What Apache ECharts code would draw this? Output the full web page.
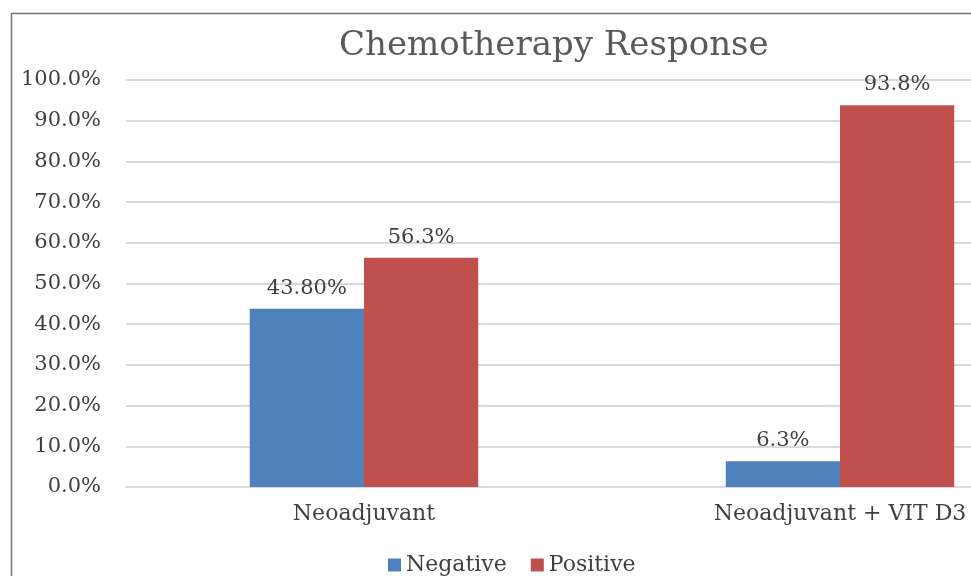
<!DOCTYPE html>
<html>
<head>
<meta charset="utf-8">
<script src="https://cdn.jsdelivr.net/npm/echarts@6/dist/echarts.min.js"></script>
<style>
  html, body { margin: 0; padding: 0; background: #fff; }
  #chart { width: 971px; height: 576px; }
</style>
</head>
<body>
<div id="chart"></div>
<script>
const categories = ['Neoadjuvant', 'Neoadjuvant + VIT D3'];
const negativeValues = [43.8, 6.3];
const positiveValues = [56.3, 93.8];
const negativeLabels = ['43.80%', '6.3%'];
const positiveLabels = ['56.3%', '93.8%'];

const serif = '"DejaVu Serif", "Liberation Serif", serif';

let myChart = echarts.init(document.getElementById('chart'));

function barLabel(texts) {
    return {
        show: true,
        position: 'top',
        distance: 10,
        fontFamily: serif,
        fontSize: 21,
        color: '#404040',
        formatter: function (p) { return texts[p.dataIndex]; }
    };
}

let option = {
    animation: false,
    graphic: [{
        type: 'rect',
        shape: { x: 11.5, y: 13.5, width: 1000, height: 600 },
        style: { fill: 'none', stroke: '#767676', lineWidth: 1.5 },
        silent: true
    }],
    title: {
        text: 'Chemotherapy Response',
        left: 334,
        top: 24,
        textStyle: {
            fontFamily: serif,
            fontSize: 34,
            fontWeight: 'normal',
            color: '#595959'
        }
    },
    legend: {
        left: 383,
        top: 549,
        itemWidth: 13,
        itemHeight: 13,
        itemGap: 24,
        icon: 'rect',
        textStyle: { fontFamily: serif, fontSize: 22, color: '#404040' },
        data: ['Negative', 'Positive']
    },
    grid: {
        left: 126,
        width: 952,
        top: 80,
        bottom: 89,
        containLabel: false,
        outerBoundsMode: 'none'
    },
    xAxis: {
        type: 'category',
        data: categories,
        axisTick: { show: false },
        axisLine: { lineStyle: { color: '#d9d9d9', width: 2 } },
        axisLabel: {
            fontFamily: serif,
            fontSize: 22,
            color: '#404040',
            margin: 16
        }
    },
    yAxis: {
        type: 'value',
        min: 0,
        max: 100,
        interval: 10,
        axisLine: { show: false },
        axisTick: { show: false },
        splitLine: { lineStyle: { color: '#d9d9d9', width: 2 } },
        axisLabel: {
            fontFamily: serif,
            fontSize: 21,
            color: '#404040',
            margin: 25,
            formatter: function (v) { return v.toFixed(1) + '%'; }
        }
    },
    series: [{
        name: 'Negative',
        type: 'bar',
        data: negativeValues,
        barGap: '0%',
        barCategoryGap: '52%',
        itemStyle: { color: '#4f81bd' },
        label: barLabel(negativeLabels)
    }, {
        name: 'Positive',
        type: 'bar',
        data: positiveValues,
        itemStyle: { color: '#c0504d' },
        label: barLabel(positiveLabels)
    }]
};

myChart.setOption(option);
</script>
</body>
</html>
